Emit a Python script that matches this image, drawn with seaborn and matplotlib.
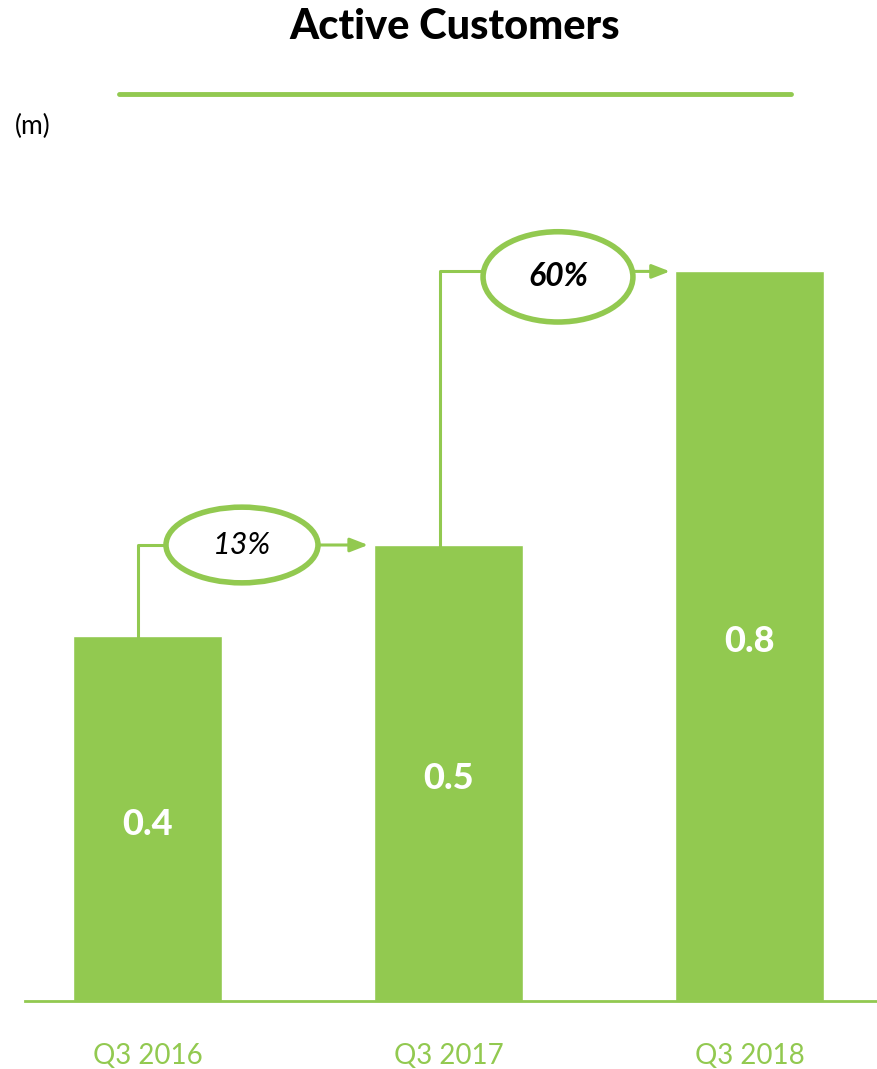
import matplotlib
matplotlib.use("Agg")
import matplotlib.pyplot as plt
from matplotlib.patches import Ellipse
import seaborn as sns
import pandas as pd

categories = ["Q3 2016", "Q3 2017", "Q3 2018"]
values = [0.4, 0.5, 0.8]
value_labels = ["0.4", "0.5", "0.8"]
growth_labels = ["13%", "60%"]

GREEN = "#92c950"

sns.set_theme(style="white")
plt.rcParams["font.family"] = ["Lato", "DejaVu Sans"]

fig = plt.figure(figsize=(8.77, 10.69), dpi=100)
W, H = 877, 1069
ax = fig.add_axes([25 / W, (H - 1001) / H, 852 / W, 861 / H])

df = pd.DataFrame({"cat": categories, "val": values})
sns.barplot(data=df, x="cat", y="val", color=GREEN, saturation=1, width=0.495, ax=ax)

ax.set_xlim(-0.407, 2.424)
ax.set_ylim(0, 861 / 912)
for s in ["top", "right", "left"]:
    ax.spines[s].set_visible(False)
ax.spines["bottom"].set_color(GREEN)
ax.spines["bottom"].set_linewidth(2)
ax.set_yticks([])
ax.set_xlabel("")
ax.set_ylabel("")
ax.tick_params(axis="x", length=0, pad=30, labelsize=20, labelcolor=GREEN)

# value labels
for i, (v, lab) in enumerate(zip(values, value_labels)):
    ax.text(i, v / 2 - 0.006, lab, ha="center", va="center", color="white",
            fontsize=26, fontweight="black")

# growth connectors
conn = [
    dict(vx=-0.032, vy0=0.396, ex=0.314, ew=0.505, eh=0.083, tip=0.733, weight="normal", fs=22),
    dict(vx=0.972, vy0=0.478, ex=1.364, ew=0.498, eh=0.099, tip=1.736, weight="bold", fs=23),
]
for i, c in enumerate(conn):
    y = values[i + 1]
    ey = y - 0.006 if i == 1 else y
    ax.plot([c["vx"], c["vx"], c["ex"] - c["ew"] / 2], [c["vy0"], y, y],
            color=GREEN, lw=2.2, solid_capstyle="butt", zorder=3)
    ax.annotate("", xy=(c["tip"], y), xytext=(c["ex"] + c["ew"] / 2, y),
                arrowprops=dict(arrowstyle="-|>,head_length=0.9,head_width=0.35",
                                color=GREEN, lw=2.2, shrinkA=0, shrinkB=0), zorder=3)
    ax.add_patch(Ellipse((c["ex"], ey), c["ew"], c["eh"], facecolor="white",
                         edgecolor=GREEN, lw=4, zorder=4))
    ax.text(c["ex"], ey, growth_labels[i], ha="center", va="center",
            fontsize=c["fs"], fontstyle="italic", fontweight=c["weight"],
            color="black", zorder=5)

# title, rule, unit
fig.text(455 / W, 1 - 27 / H, "Active Customers", ha="center", va="center",
         fontsize=30, fontweight="black", color="black")
fig.add_artist(plt.Line2D([119 / W, 791 / W], [1 - 94 / H, 1 - 94 / H],
                          color=GREEN, lw=3.5, transform=fig.transFigure))
fig.text(15 / W, 1 - 126 / H, "(m)", ha="left", va="center", fontsize=19, color="black")

fig.savefig("out.png", dpi=100)
